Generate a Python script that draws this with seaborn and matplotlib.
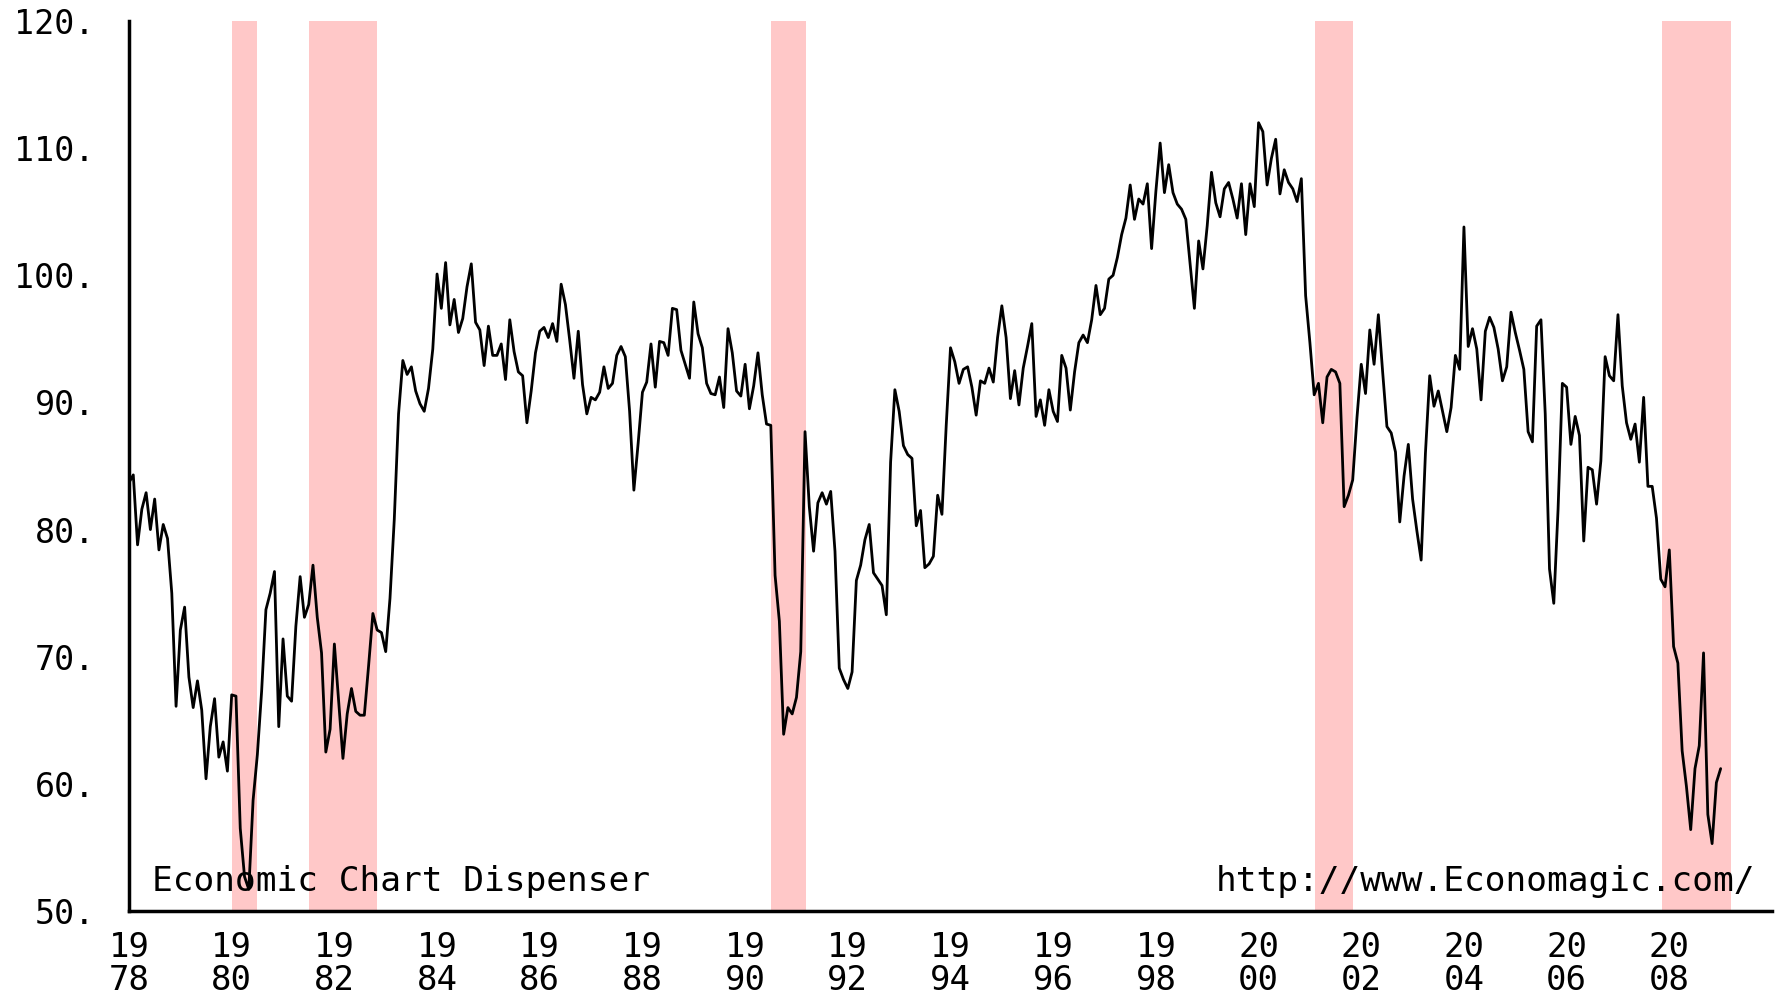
import matplotlib
matplotlib.use("Agg")
import matplotlib.pyplot as plt
import seaborn as sns
import numpy as np
import pandas as pd

# Monthly index values, Jan 1978 .. Jan 2009
y1978 = [83.7, 84.3, 78.8, 81.6, 82.9, 80.0, 82.4, 78.4, 80.4, 79.3, 75.0, 66.1]
y1979 = [72.1, 73.9, 68.4, 66.0, 68.1, 65.8, 60.4, 64.5, 66.7, 62.1, 63.3, 61.0]
y1980 = [67.0, 66.9, 56.5, 52.7, 51.7, 58.7, 62.3, 67.3, 73.7, 75.0, 76.7, 64.5]
y1981 = [71.4, 66.9, 66.5, 72.4, 76.3, 73.1, 74.1, 77.2, 73.1, 70.3, 62.5, 64.3]
y1982 = [71.0, 66.5, 62.0, 65.5, 67.5, 65.7, 65.4, 65.4, 69.3, 73.4, 72.1, 71.9]
y1983 = [70.4, 74.6, 80.8, 89.1, 93.3, 92.2, 92.8, 90.9, 89.9, 89.3, 91.1, 94.2]
y1984 = [100.1, 97.4, 101.0, 96.1, 98.1, 95.5, 96.6, 99.1, 100.9, 96.3, 95.7, 92.9]
y1985 = [96.0, 93.7, 93.7, 94.6, 91.8, 96.5, 94.0, 92.4, 92.1, 88.4, 90.9, 93.9]
y1986 = [95.6, 95.9, 95.1, 96.2, 94.8, 99.3, 97.7, 94.9, 91.9, 95.6, 91.4, 89.1]
y1987 = [90.4, 90.2, 90.8, 92.8, 91.1, 91.5, 93.7, 94.4, 93.6, 89.3, 83.1, 86.8]
y1988 = [90.8, 91.6, 94.6, 91.2, 94.8, 94.7, 93.7, 97.4, 97.3, 94.1, 93.0, 91.9]
y1989 = [97.9, 95.4, 94.3, 91.5, 90.7, 90.6, 92.0, 89.6, 95.8, 93.9, 90.9, 90.5]
y1990 = [93.0, 89.5, 91.3, 93.9, 90.6, 88.3, 88.2, 76.4, 72.8, 63.9, 66.0, 65.5]
y1991 = [66.8, 70.4, 87.7, 81.8, 78.3, 82.1, 82.9, 82.0, 83.0, 78.3, 69.1, 68.2]
y1992 = [67.5, 68.8, 76.0, 77.2, 79.2, 80.4, 76.6, 76.1, 75.6, 73.3, 85.3, 91.0]
y1993 = [89.3, 86.6, 85.9, 85.6, 80.3, 81.5, 77.0, 77.3, 77.9, 82.7, 81.2, 88.2]
y1994 = [94.3, 93.2, 91.5, 92.6, 92.8, 91.2, 89.0, 91.7, 91.5, 92.7, 91.6, 95.1]
y1995 = [97.6, 95.1, 90.3, 92.5, 89.8, 92.7, 94.4, 96.2, 88.9, 90.2, 88.2, 91.0]
y1996 = [89.3, 88.5, 93.7, 92.7, 89.4, 92.4, 94.7, 95.3, 94.7, 96.5, 99.2, 96.9]
y1997 = [97.4, 99.7, 100.0, 101.4, 103.2, 104.5, 107.1, 104.4, 106.0, 105.6, 107.2, 102.1]
y1998 = [106.6, 110.4, 106.5, 108.7, 106.5, 105.6, 105.2, 104.4, 100.9, 97.4, 102.7, 100.5]
y1999 = [103.9, 108.1, 105.7, 104.6, 106.8, 107.3, 106.0, 104.5, 107.2, 103.2, 107.2, 105.4]
y2000 = [112.0, 111.3, 107.1, 109.2, 110.7, 106.4, 108.3, 107.3, 106.8, 105.8, 107.6, 98.4]
y2001 = [94.7, 90.6, 91.5, 88.4, 92.0, 92.6, 92.4, 91.5, 81.8, 82.7, 83.9, 88.8]
y2002 = [93.0, 90.7, 95.7, 93.0, 96.9, 92.4, 88.1, 87.6, 86.1, 80.6, 84.2, 86.7]
y2003 = [82.4, 79.9, 77.6, 86.0, 92.1, 89.7, 90.9, 89.3, 87.7, 89.6, 93.7, 92.6]
y2004 = [103.8, 94.4, 95.8, 94.2, 90.2, 95.6, 96.7, 95.9, 94.2, 91.7, 92.8, 97.1]
y2005 = [95.5, 94.1, 92.6, 87.7, 86.9, 96.0, 96.5, 89.1, 76.9, 74.2, 81.6, 91.5]
y2006 = [91.2, 86.7, 88.9, 87.4, 79.1, 84.9, 84.7, 82.0, 85.4, 93.6, 92.1, 91.7]
y2007 = [96.9, 91.3, 88.4, 87.1, 88.3, 85.3, 90.4, 83.4, 83.4, 80.9, 76.1, 75.5]
y2008 = [78.4, 70.8, 69.5, 62.6, 59.8, 56.4, 61.2, 63.0, 70.3, 57.6, 55.3, 60.1]
y2009 = [61.2]

start_year = 1978

# Recession periods (decimal years)
rec_start = [1980.0, 1981.5, 1990.5, 2001.1, 2007.86]
rec_end = [1980.5, 1982.83, 1991.19, 2001.84, 2009.2]

y_ticks = [50, 60, 70, 80, 90, 100, 110, 120]
y_tick_labels = ["50.", "60.", "70.", "80.", "90.", "100.", "110.", "120."]
x_ticks = list(range(1978, 2009, 2))
x_tick_labels = [f"{str(y)[:2]}\n{str(y)[2:]}" for y in x_ticks]

left_note = "Economic Chart Dispenser"
right_note = "http://www.Economagic.com/"

values = (y1978 + y1979 + y1980 + y1981 + y1982 + y1983 + y1984 + y1985 + y1986
          + y1987 + y1988 + y1989 + y1990 + y1991 + y1992 + y1993 + y1994 + y1995
          + y1996 + y1997 + y1998 + y1999 + y2000 + y2001 + y2002 + y2003 + y2004
          + y2005 + y2006 + y2007 + y2008 + y2009)
t = start_year + np.arange(len(values)) / 12.0
df = pd.DataFrame({"t": t, "v": values})

sns.set_theme(style="white")
plt.rcParams["font.family"] = ["DejaVu Sans Mono", "DejaVu Sans"]

W, H = 1775, 998
fig = plt.figure(figsize=(W / 100, H / 100), dpi=100)
ax = fig.add_axes([129 / W, 1 - 911 / H, (1772 - 129) / W, (911 - 21) / H])

for s, e in zip(rec_start, rec_end):
    ax.axvspan(s, e, color="#ffc8c8", lw=0, zorder=0)

sns.lineplot(data=df, x="t", y="v", ax=ax, color="black", lw=2.0, zorder=3)

ax.set_xlim(1978, 2010)
ax.set_ylim(50, 120)
ax.set_xticks(x_ticks)
ax.set_xticklabels(x_tick_labels, fontsize=24.5, linespacing=1.0)
ax.set_yticks(y_ticks)
ax.set_yticklabels(y_tick_labels, fontsize=24)
ax.set_xlabel("")
ax.set_ylabel("")

for side in ["top", "right"]:
    ax.spines[side].set_visible(False)
for side in ["left", "bottom"]:
    ax.spines[side].set_color("black")
    ax.spines[side].set_linewidth(2.5)
    ax.spines[side].set_zorder(4)

ax.tick_params(axis="both", direction="inout", length=17, width=2.5, color="black",
               labelcolor="black")
ax.tick_params(axis="y", pad=16)
ax.tick_params(axis="x", pad=6)
ax.grid(False)
ax.set_facecolor("white")

ax.text(0.014, 0.022, left_note, transform=ax.transAxes, fontsize=24.8,
        ha="left", va="baseline", color="black", zorder=2)
ax.text(0.99, 0.022, right_note, transform=ax.transAxes, fontsize=24.8,
        ha="right", va="baseline", color="black", zorder=2)

fig.savefig("out.png", dpi=100, facecolor="white")
